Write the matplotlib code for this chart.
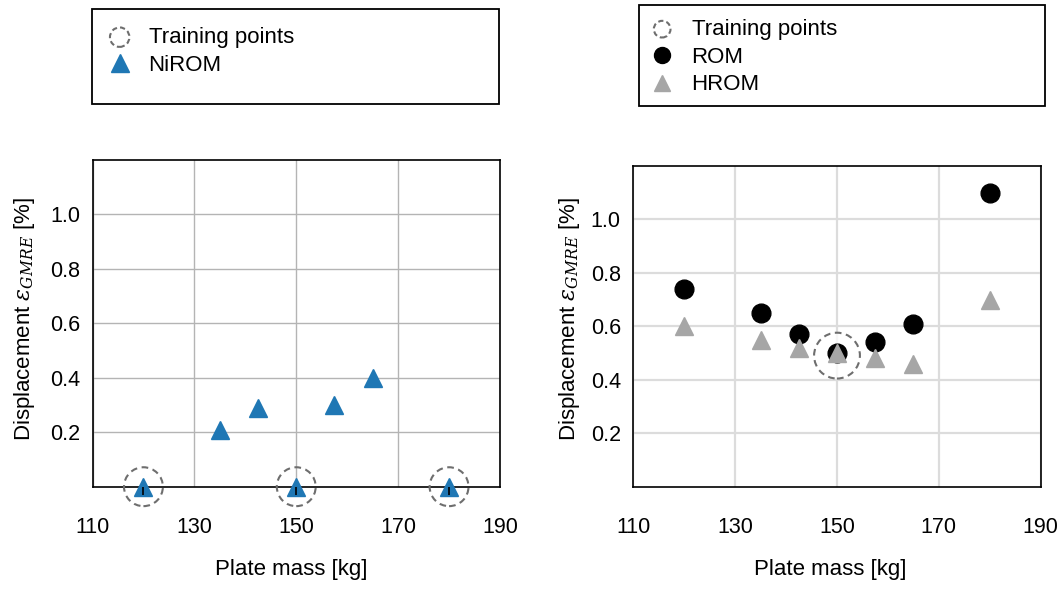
import matplotlib
matplotlib.use("Agg")
import matplotlib.pyplot as plt
from matplotlib.patches import Rectangle

plt.rcParams["font.family"] = ["Liberation Sans", "DejaVu Sans"]
plt.rcParams["mathtext.fontset"] = "custom"
plt.rcParams["mathtext.it"] = "DejaVu Serif:italic"
plt.rcParams["mathtext.rm"] = "Liberation Serif"

# Plate masses and displacement errors
mass = [120, 135, 142.5, 150, 157.5, 165, 180]
nirom_err = [0.0, 0.21, 0.29, 0.0, 0.30, 0.40, 0.0]
rom_err = [0.74, 0.65, 0.57, 0.50, 0.54, 0.61, 1.10]
hrom_err = [0.60, 0.55, 0.52, 0.50, 0.48, 0.46, 0.70]

# Training samples for each model family
train_mass_nirom = [120, 150, 180]
train_err_nirom = [0.0, 0.0, 0.0]
train_mass_rom = [150]
train_err_rom = [0.49]

xticks = [110, 130, 150, 170, 190]
yticks = [0.2, 0.4, 0.6, 0.8, 1.0]

TICK_FS = 15.5
LABEL_FS = 16
LEG_FS = 16
BLUE = "#1f77b4"
GREY = "#a6a6a6"
CIRC = "#6e6e6e"
DASH = (0, (3.2, 2.2))
YLABEL = r"Displacement $\varepsilon_{GMRE}$ [%]"

W, H = 1064, 589
fig = plt.figure(figsize=(W / 100, H / 100), dpi=100)


def px_axes(x0, y0, x1, y1):
    return fig.add_axes([x0 / W, 1 - y1 / H, (x1 - x0) / W, (y1 - y0) / H])


def style_axes(ax, grid_color, grid_lw):
    ax.set_xlim(110, 190)
    ax.set_ylim(0, 1.2)
    ax.set_xticks(xticks)
    ax.set_yticks(yticks)
    ax.set_xticklabels([str(t) for t in xticks])
    ax.set_yticklabels([f"{t:.1f}" for t in yticks])
    ax.tick_params(axis="x", length=0, pad=22, labelsize=TICK_FS)
    ax.tick_params(axis="y", length=0, pad=9, labelsize=TICK_FS)
    ax.grid(True, color=grid_color, linewidth=grid_lw)
    ax.set_axisbelow(True)
    for s in ax.spines.values():
        s.set_linewidth(1.2)
        s.set_color("black")
        s.set_zorder(2.6)
    ax.set_xlabel("Plate mass [kg]", fontsize=LABEL_FS)
    ax.set_ylabel(YLABEL, fontsize=LABEL_FS)


def frame_box(x0, y0, x1, y1):
    fig.patches.append(Rectangle((x0 / W, 1 - y1 / H), (x1 - x0) / W, (y1 - y0) / H,
                                 transform=fig.transFigure, fill=False,
                                 edgecolor="black", linewidth=1.3))


# ---- left panel: NiROM ----
axL = px_axes(92.5, 160, 500, 486.7)
style_axes(axL, "#b4b4b4", 1.0)
axL.scatter(train_mass_nirom, train_err_nirom, s=28 ** 2, facecolors="none",
            edgecolors=CIRC, linewidths=1.5, linestyles=DASH, zorder=3, clip_on=False)
axL.plot(mass, nirom_err, linestyle="none", marker="^", ms=13, color=BLUE,
         zorder=4, clip_on=False)
axL.plot(train_mass_nirom, train_err_nirom, linestyle="none", marker=3, ms=6,
         mew=1.2, color="black", zorder=5, clip_on=False)
axL.xaxis.set_label_coords((291.5 - 92.5) / 407.5, -0.22)
axL.yaxis.set_label_coords(-0.135, 0.513)

hL1 = axL.scatter([], [], s=14 ** 2, facecolors="none", edgecolors=CIRC,
                  linewidths=1.5, linestyles=(0, (2.5, 1.5)))
hL2, = axL.plot([], [], linestyle="none", marker="^", ms=13.5, color=BLUE)
frame_box(92.3, 9, 499, 104)
fig.legend([hL1, hL2], ["Training points", "NiROM"], loc="upper left",
           bbox_to_anchor=(103 / W, 1 - 27 / H), frameon=False, fontsize=LEG_FS,
           borderpad=0, borderaxespad=0, handlelength=1.5, handletextpad=0.55,
           labelspacing=0.3, scatterpoints=1)

# ---- right panel: ROM / HROM ----
axR = px_axes(633.3, 166, 1040.7, 486.5)
style_axes(axR, "#dcdcdc", 1.6)
axR.scatter(train_mass_rom, train_err_rom, s=33 ** 2, facecolors=(1, 1, 1, 0.75),
            edgecolors=CIRC, linewidths=1.5, linestyles=DASH, zorder=3)
axR.plot(mass, rom_err, linestyle="none", marker="o", ms=13.5, color="black", zorder=4)
axR.plot(mass, hrom_err, linestyle="none", marker="^", ms=13, color=GREY, zorder=5)
axR.xaxis.set_label_coords((830 - 633.3) / 407.4, -0.225)
axR.yaxis.set_label_coords(-0.125, 0.522)

hR1 = axR.scatter([], [], s=12 ** 2, facecolors="none", edgecolors=CIRC,
                  linewidths=1.5, linestyles=(0, (2.5, 1.5)))
hR2, = axR.plot([], [], linestyle="none", marker="o", ms=11.5, color="black")
hR3, = axR.plot([], [], linestyle="none", marker="^", ms=11, color=GREY)
frame_box(639, 5, 1045, 106)
fig.legend([hR1, hR2, hR3], ["Training points", "ROM", "HROM"], loc="upper left",
           bbox_to_anchor=(645.5 / W, 1 - 19 / H), frameon=False, fontsize=LEG_FS,
           borderpad=0, borderaxespad=0, handlelength=1.5, handletextpad=0.57,
           labelspacing=0.3, scatterpoints=1)

fig.savefig("out.png", dpi=100)
